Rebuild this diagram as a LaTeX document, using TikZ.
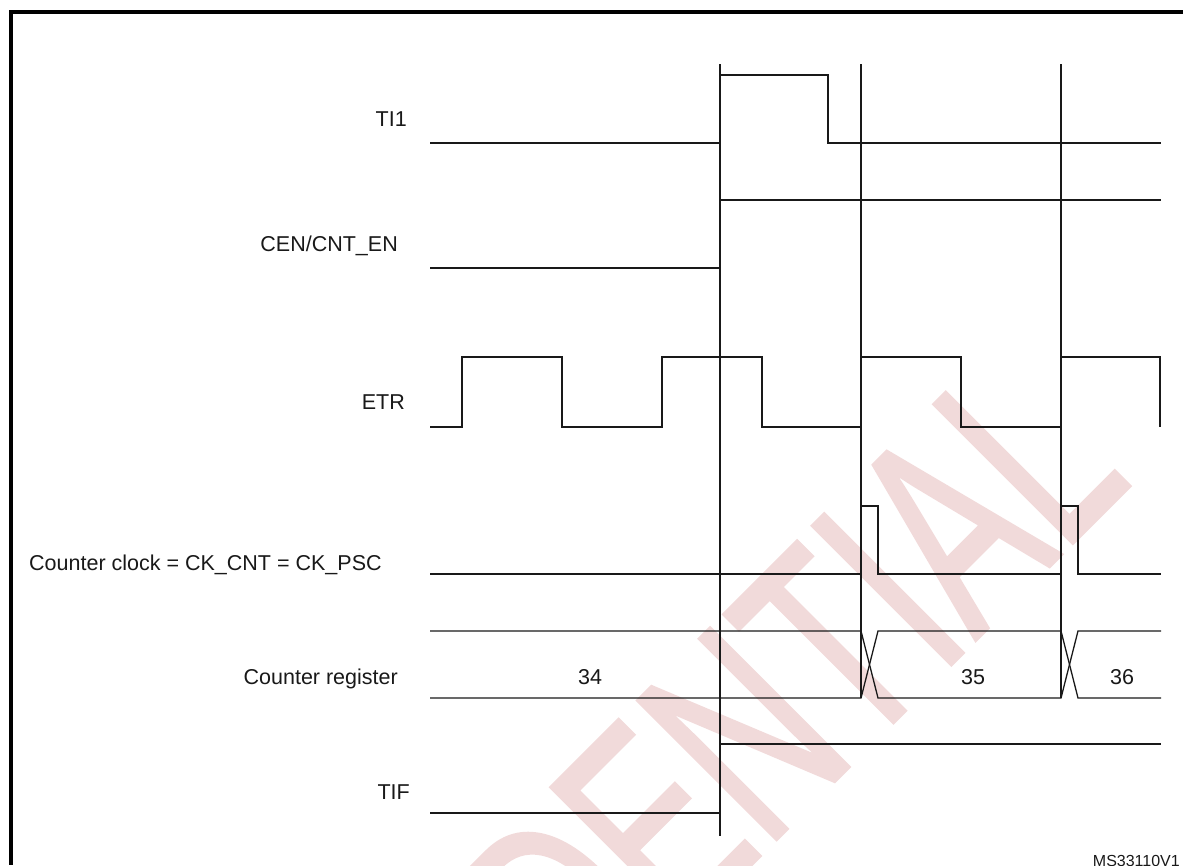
\documentclass[tikz,border=0pt]{standalone}
\usepackage{fontspec}
\setmainfont{Liberation Sans}
\newfontfamily\wmfont[FakeStretch=0.643,FakeBold=1]{Liberation Sans}
\definecolor{wmpink}{RGB}{241,218,218}
\definecolor{ink}{RGB}{25,25,25}
\begin{document}
\begin{tikzpicture}[x=1pt,y=-1pt,
  sig/.style={line width=1.3pt, draw=ink, line join=miter},
  marker/.style={line width=1.3pt, draw=ink},
  lbl/.style={font=\fontsize{21.5}{26}\selectfont, inner sep=0pt, text=ink},
  frame/.style={line width=3.6pt, draw=black}]
\useasboundingbox (0,0) rectangle (1183,865);

% watermark
\node[inner sep=0pt, rotate=45, text=wmpink, font=\wmfont\fontsize{286}{300}\selectfont] (wm) at (588,889) {CONFIDENTIAL};

% frame
\draw[frame] (1183,12) -- (11,12) -- (11,865);

% labels
\node[lbl, anchor=base east] (lti1) at (407,126) {TI1};
\node[lbl, anchor=base east] (lcen) at (398,251) {CEN/CNT\_EN};
\node[lbl, anchor=base east] (letr) at (405,409) {ETR};
\node[lbl, anchor=base west] (lclk) at (29,570) {Counter clock = CK\_CNT = CK\_PSC};
\node[lbl, anchor=base east] (lreg) at (398,684) {Counter register};
\node[lbl, anchor=base east] (ltif) at (410,799) {TIF};
\node[lbl, anchor=base] (v34) at (590,684) {34};
\node[lbl, anchor=base] (v35) at (973,684) {35};
\node[lbl, anchor=base] (v36) at (1122,684) {36};
\node[inner sep=0pt, anchor=base east, text=ink, font=\fontsize{16}{18}\selectfont] (ref) at (1180,866.5) {MS33110V1};

% marker lines
\coordinate (m1t) at (720,64);  \coordinate (m1b) at (720,836);
\coordinate (m2t) at (861,64);  \coordinate (m2b) at (861,698);
\coordinate (m3t) at (1061,64); \coordinate (m3b) at (1061,698);
\draw[marker] (m1t) -- (m1b);
\draw[marker] (m2t) -- (m2b);
\draw[marker] (m3t) -- (m3b);

% TI1
\draw[sig] (430,143) -- (720,143) -- (720,75) -- (828,75) -- (828,143) -- (1161,143);
% CEN/CNT_EN
\draw[sig] (430,268) -- (720,268) -- (720,200) -- (1161,200);
% ETR
\draw[sig] (430,427) -- (462,427) -- (462,357) -- (562,357) -- (562,427) -- (662,427)
  -- (662,357) -- (762,357) -- (762,427) -- (861,427) -- (861,357) -- (961,357)
  -- (961,427) -- (1061,427) -- (1061,357) -- (1160,357) -- (1160,427);
% Counter clock
\draw[sig] (430,574) -- (861,574) -- (861,506) -- (878,506) -- (878,574) -- (1061,574)
  -- (1061,506) -- (1078,506) -- (1078,574) -- (1161,574);
% Counter register bus
\draw[sig] (430,631) -- (861,631) -- (878,698) -- (1061,698) -- (1078,631) -- (1161,631);
\draw[sig] (430,698) -- (861,698) -- (878,631) -- (1061,631) -- (1078,698) -- (1161,698);
% TIF
\draw[sig] (430,813) -- (720,813) -- (720,744) -- (1161,744);
\end{tikzpicture}
\end{document}
